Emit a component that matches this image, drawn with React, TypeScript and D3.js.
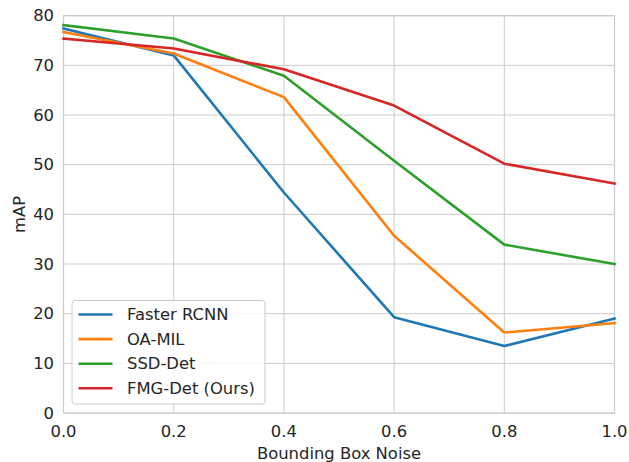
import React from "react";
import { scaleLinear, line } from "d3";

const noise = [0.0, 0.2, 0.4, 0.6, 0.8, 1.0];
const fasterRcnn = [77.4, 72.0, 44.4, 19.3, 13.5, 19.0];
const oaMil = [76.7, 72.4, 63.6, 35.7, 16.2, 18.1];
const ssdDet = [78.1, 75.4, 67.9, 50.8, 33.9, 30.0];
const fmgDet = [75.4, 73.4, 69.2, 61.9, 50.2, 46.2];
const seriesNames = ["Faster RCNN", "OA-MIL", "SSD-Det", "FMG-Det (Ours)"];
const xTicks = [0, 0.2, 0.4, 0.6, 0.8, 1.0];
const yTicks = [0, 10, 20, 30, 40, 50, 60, 70, 80];

const colors = ["#1f77b4", "#ff7f0e", "#2ca02c", "#d62728"];

const App = () => {
  const width = 629;
  const height = 462;
  const left = 63.5;
  const right = 614.5;
  const top = 15.7;
  const bottom = 413;
  const font = "DejaVu Sans, sans-serif";
  const textColor = "#262626";
  const fs = 16.4;

  const x = scaleLinear().domain([0, 1]).range([left, right]);
  const y = scaleLinear().domain([0, 80]).range([bottom, top]);

  const series = [fasterRcnn, oaMil, ssdDet, fmgDet];
  const path = line<number>()
    .x((_, i) => x(noise[i]))
    .y((d) => y(d));

  const legendX = 72;
  const legendY = 300.5;
  const rowH = 24.6;

  return (
    <svg
      width={width}
      height={height}
      style={{ position: "absolute", left: 0, top: 0, background: "#fff" }}
    >
      {/* grid */}
      {xTicks.map((t) => (
        <line key={"gx" + t} x1={x(t)} x2={x(t)} y1={top} y2={bottom} stroke="#cccccc" strokeWidth={1} />
      ))}
      {yTicks.map((t) => (
        <line key={"gy" + t} x1={left} x2={right} y1={y(t)} y2={y(t)} stroke="#cccccc" strokeWidth={1} />
      ))}
      <rect x={left} y={top} width={right - left} height={bottom - top} fill="none" stroke="#cccccc" strokeWidth={1.25} />

      {/* lines */}
      {series.map((s, i) => (
        <path key={seriesNames[i]} d={path(s) || ""} fill="none" stroke={colors[i]} strokeWidth={2.6} strokeLinejoin="round" strokeLinecap="square" />
      ))}

      {/* tick labels */}
      {xTicks.map((t) => (
        <text key={"tx" + t} x={x(t)} y={431} textAnchor="middle" dominantBaseline="central" fontFamily={font} fontSize={fs} fill={textColor}>
          {t.toFixed(1)}
        </text>
      ))}
      {yTicks.map((t) => (
        <text key={"ty" + t} x={54} y={y(t)} textAnchor="end" dominantBaseline="central" fontFamily={font} fontSize={fs} fill={textColor}>
          {t}
        </text>
      ))}

      {/* axis labels */}
      <text x={(left + right) / 2} y={453} textAnchor="middle" dominantBaseline="central" fontFamily={font} fontSize={fs} fill={textColor}>
        Bounding Box Noise
      </text>
      <text transform={`translate(19,${(top + bottom) / 2}) rotate(-90)`} textAnchor="middle" dominantBaseline="central" fontFamily={font} fontSize={fs} fill={textColor}>
        mAP
      </text>

      {/* legend */}
      <rect x={legendX} y={legendY} width={193} height={103.5} rx={3} fill="#ffffff" fillOpacity={0.8} stroke="#cccccc" strokeWidth={1} />
      {seriesNames.map((n, i) => {
        const cy = legendY + 14 + i * rowH;
        return (
          <g key={n}>
            <line x1={78.5} x2={112.5} y1={cy} y2={cy} stroke={colors[i]} strokeWidth={2.6} />
            <text x={127} y={cy} dominantBaseline="central" fontFamily={font} fontSize={fs} fill={textColor}>
              {n}
            </text>
          </g>
        );
      })}
    </svg>
  );
};

export default App;
